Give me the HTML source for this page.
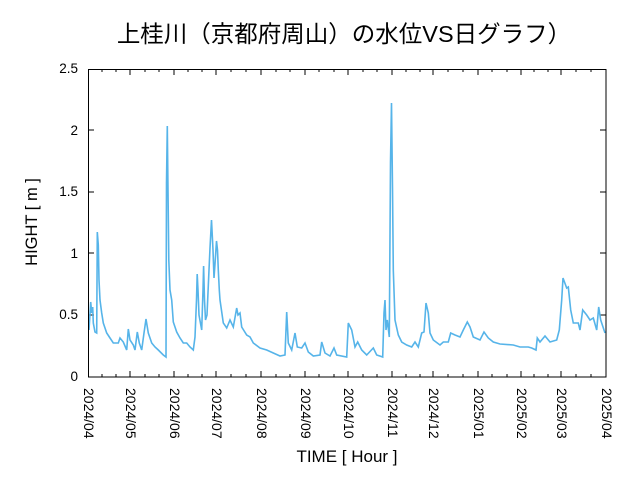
<!DOCTYPE html>
<html><head><meta charset="utf-8"><style>
body{margin:0;background:#fff;}
svg{display:block;font-family:"Liberation Sans","Noto Sans CJK JP",sans-serif;}
</style></head><body>
<svg width="640" height="480" viewBox="0 0 640 480" xmlns="http://www.w3.org/2000/svg">
<rect width="640" height="480" fill="#fff"/>
<text x="344" y="42" font-size="23.5" text-anchor="middle" fill="#000">上桂川（京都府周山）の水位VS日グラフ）</text>
<g font-size="13.5" fill="#000" text-anchor="end">
<text x="78" y="73">2.5</text><text x="78" y="135">2</text><text x="78" y="196">1.5</text>
<text x="78" y="258">1</text><text x="78" y="319">0.5</text><text x="78" y="381">0</text>
</g>
<text transform="translate(37,222) rotate(-90)" font-size="16.5" text-anchor="middle">HIGHT [ m ]</text>
<text x="347" y="462" font-size="17" text-anchor="middle">TIME [ Hour ]</text>
<g font-size="14" fill="#000">
<text transform="translate(84,388) rotate(90)">2024/04</text>
<text transform="translate(126,388) rotate(90)">2024/05</text>
<text transform="translate(170,388) rotate(90)">2024/06</text>
<text transform="translate(212,388) rotate(90)">2024/07</text>
<text transform="translate(257,388) rotate(90)">2024/08</text>
<text transform="translate(301,388) rotate(90)">2024/09</text>
<text transform="translate(344,388) rotate(90)">2024/10</text>
<text transform="translate(388,388) rotate(90)">2024/11</text>
<text transform="translate(429,388) rotate(90)">2024/12</text>
<text transform="translate(474,388) rotate(90)">2025/01</text>
<text transform="translate(517,388) rotate(90)">2025/02</text>
<text transform="translate(557,388) rotate(90)">2025/03</text>
<text transform="translate(602,388) rotate(90)">2025/04</text>
</g>
<g stroke="#000" stroke-width="1">
<path d="M130,377v-6M174,377v-6M216,377v-6M261,377v-6M305,377v-6M348,377v-6M392,377v-6M433,377v-6M478,377v-6M521,377v-6M561,377v-6
M130,69v6M174,69v6M216,69v6M261,69v6M305,69v6M348,69v6M392,69v6M433,69v6M478,69v6M521,69v6M561,69v6
M102,377v-3M116,377v-3M145,377v-3M159,377v-3M188,377v-3M202,377v-3M231,377v-3M246,377v-3M276,377v-3M290,377v-3M319,377v-3M334,377v-3M363,377v-3M377,377v-3M406,377v-3M420,377v-3M448,377v-3M463,377v-3M492,377v-3M507,377v-3M534,377v-3M548,377v-3M576,377v-3M591,377v-3
M102,69v3M116,69v3M145,69v3M159,69v3M188,69v3M202,69v3M231,69v3M246,69v3M276,69v3M290,69v3M319,69v3M334,69v3M363,69v3M377,69v3M406,69v3M420,69v3M448,69v3M463,69v3M492,69v3M507,69v3M534,69v3M548,69v3M576,69v3M591,69v3
M88,130h6M88,192h6M88,253h6M88,315h6M606,130h-6M606,192h-6M606,253h-6M606,315h-6"/>
</g>
<polyline fill="none" stroke="#56b4e9" stroke-width="1.6" stroke-linejoin="miter" points="
89,330 90.7,302 91.7,313 92.7,307 93.3,323 95,332 96.7,333 97.3,232 98.3,245 99,280 100,300 101.7,313 103.3,323 106.7,333 110,338 113.3,343 118.3,343 120,338 123.3,342 126.7,350 128.3,329 130,340 133.3,345 135,350 137.3,332 139.3,343 141.7,350 144,333 146,319 148.3,333 151.7,343 155,347 158.3,350 163.3,355 166,357 166.5,183 167.3,126 168,190 168.8,260 170,290 171.7,300 173.3,322 176.7,332 180,338 183.3,343 186.7,343 190,347 193.3,350 195,337 196.5,300 197.2,274 198,290 199,315 201.7,330 203,290 203.6,266 204.5,300 205.5,320 207,315 209,270 210,248 211.5,220 213,250 214,278 215,264 216.5,241 217.5,250 218.3,270 219.3,290 220,300 223.3,323 226.7,328 230,320 233.3,327 236.7,308 238,315 240,313 241.7,327 246.7,335 250,337 253.3,343 260,348 266.7,350 273.3,353 280,356 285,355 286.7,312 288.3,343 291.7,350 295,333 297.3,347 301.7,348 305,343 308.3,352 313.3,356 320,355 321.7,342 325,353 330,356 334,348 336.7,355 346.7,357 348.3,323 351.7,330 355,347 357.7,342 361.7,350 366.7,355 373.3,348 376.7,355 382.7,357 384,313 385,300 386,330 387.3,320 389.3,337 390.5,162 391.5,103 392.5,188 393.3,270 395,320 398.3,335 401.7,342 406.7,345 411.7,347 415,342 418.3,347 421.7,333 424,332 426,303 428.3,313 430,333 433.3,340 440,345 443.3,342 448.3,342 450.7,333 455,335 460,337 463.3,330 467.3,322 470,327 473.3,337 480,340 484,332 488.3,338 493.3,342 500,344 513.3,345 520,347 528.3,347 531.7,348 536,350 537.3,338 540,342 545,336 550,342 556.7,340 559.3,330 561.7,300 563,278 566.7,288 568.3,287 570.7,310 573.3,323 578.3,323 580,330 582.7,310 586.7,315 590,320 593.3,318 596.7,330 598.7,307 600.7,320 605,333"/>
<rect x="88.5" y="69.5" width="517.5" height="307.5" fill="none" stroke="#000" stroke-width="1"/>
</svg>
</body></html>
